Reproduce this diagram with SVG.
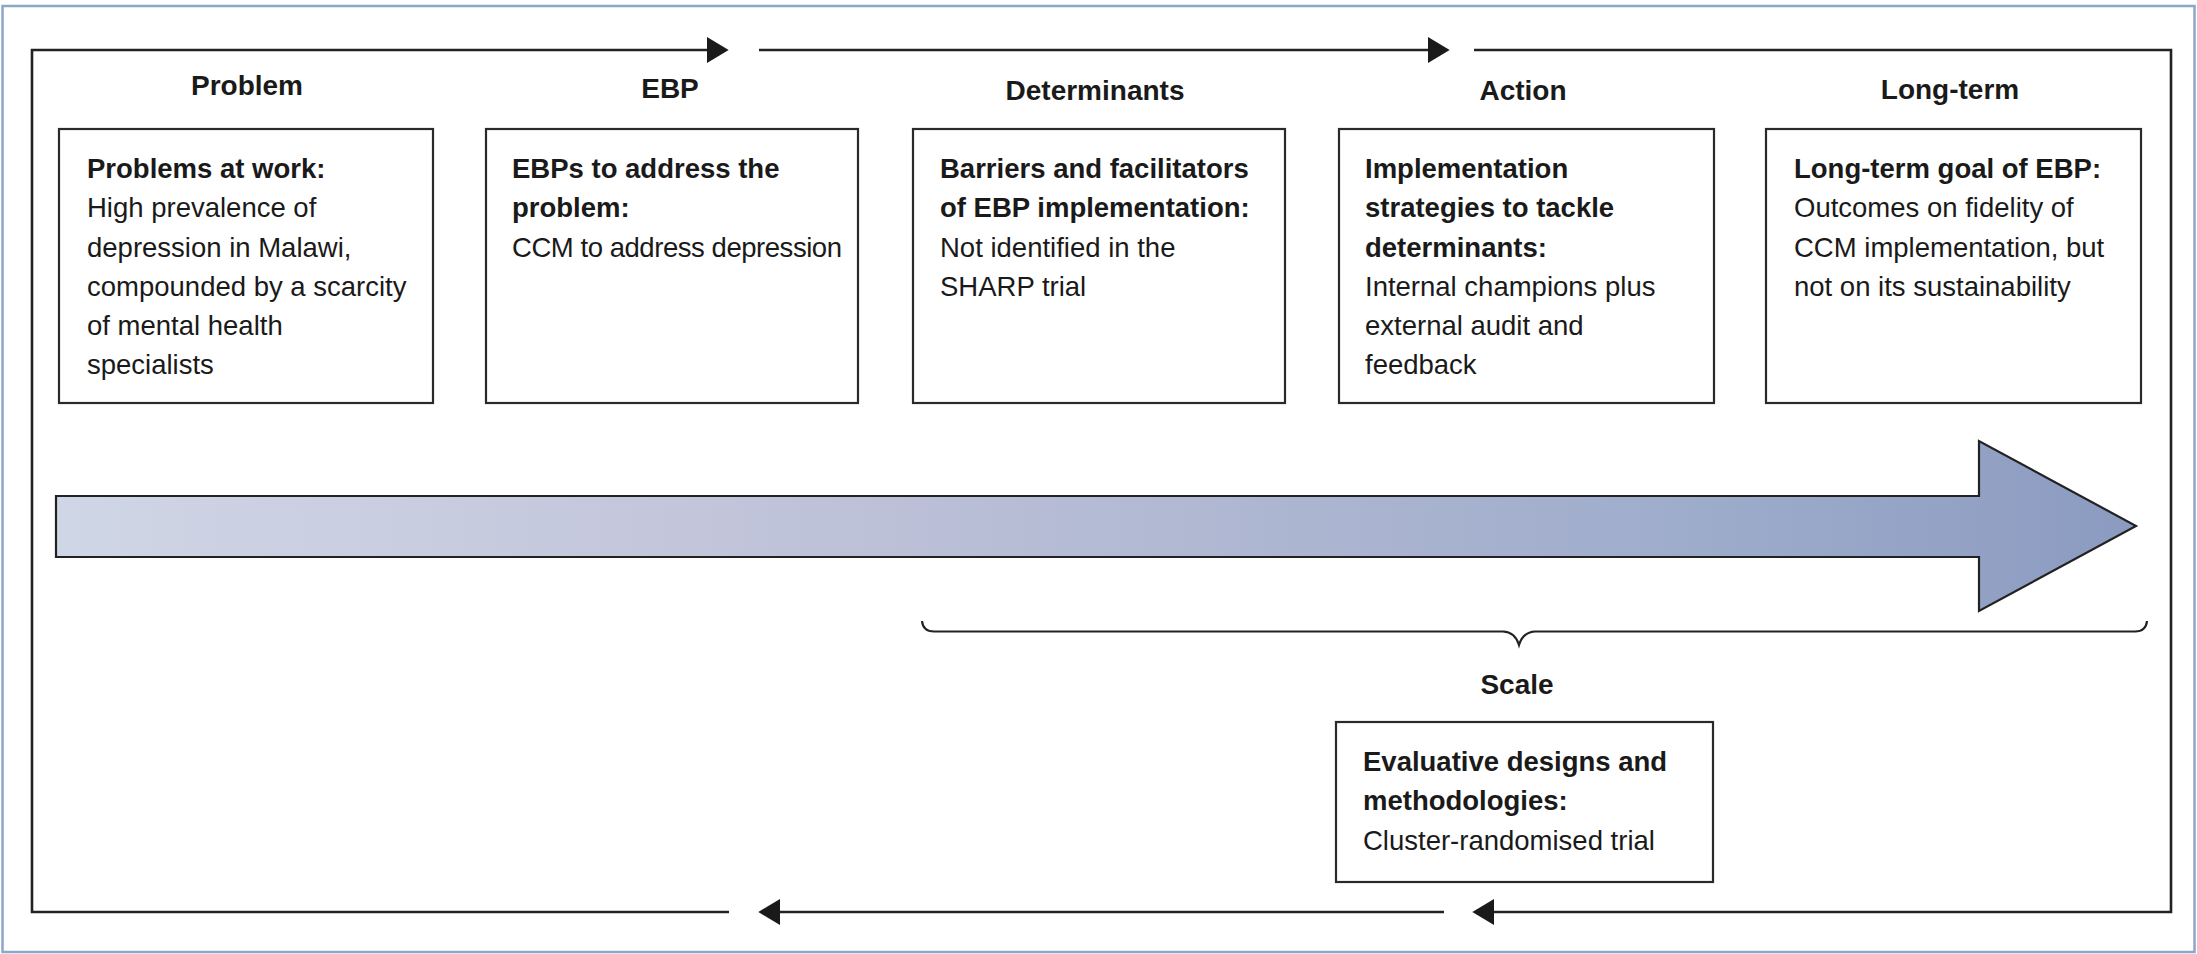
<svg xmlns="http://www.w3.org/2000/svg" width="2197" height="954" viewBox="0 0 2197 954">
  <style>
    .page { fill: #ffffff; }
    .edge { fill: none; stroke: #8fa7c7; stroke-width: 2.5; }
    .box { fill: #ffffff; stroke: #2a2a2a; stroke-width: 2.2; }
    .line { fill: none; stroke: #222222; stroke-width: 2.6; }
    .brace { fill: none; stroke: #222222; stroke-width: 2.2; }
    text { font-family: "Liberation Sans", Arial, sans-serif; fill: #1a1a1a; }
    .head { font-size: 28px; font-weight: bold; text-anchor: middle; }
    .b { font-size: 27.5px; font-weight: bold; }
    .r { font-size: 27.5px; }
  </style>
  <defs>
    <marker id="tri" markerUnits="userSpaceOnUse" markerWidth="22" markerHeight="26" viewBox="0 0 20 24" refX="0" refY="12" orient="auto">
      <path d="M0,0 L20,12 L0,24 Z" fill="#1a1a1a"/>
    </marker>
    <linearGradient id="flow" gradientUnits="userSpaceOnUse" x1="56" y1="0" x2="2136" y2="0">
      <stop offset="0" stop-color="#cfd6e5"/>
      <stop offset="0.3" stop-color="#c3c6db"/>
      <stop offset="0.55" stop-color="#b0b8d2"/>
      <stop offset="0.8" stop-color="#9dabcb"/>
      <stop offset="1" stop-color="#8b9bc0"/>
    </linearGradient>
  </defs>

  <rect class="page" x="0" y="0" width="2197" height="954"/>
  <rect class="edge" x="2.5" y="6" width="2192" height="946"/>

  <!-- cycle frame with direction arrows -->
  <g id="connectors">
    <path class="line" d="M729,912 H32 V50 H707" marker-end="url(#tri)"/>
    <path class="line" d="M759,50 H1428" marker-end="url(#tri)"/>
    <path class="line" d="M1474,50 H2171 V912 H1494" marker-end="url(#tri)"/>
    <path class="line" d="M1444,912 H780" marker-end="url(#tri)"/>
    <path id="scale-brace" class="brace" d="M922,621 Q923,631.5 934,631.5 H1503 Q1515,632 1519,645 Q1523,632 1535,631.5 H2135 Q2146,631.5 2147,621"/>
  </g>

  <!-- progress arrow -->
  <g id="progress-arrow">
    <path d="M56,496 H1979 V441 L2136,526 L1979,611 V557 H56 Z" fill="url(#flow)" stroke="#222222" stroke-width="2.2" stroke-linejoin="miter"/>
  </g>

  <g id="problem">
    <text class="head" x="247" y="95">Problem</text>
    <rect class="box" x="59" y="129" width="374" height="274"/>
    <text class="b" x="87" y="178">Problems at work:</text>
    <text class="r" x="87" y="217">High prevalence of</text>
    <text class="r" x="87" y="256.5">depression in Malawi,</text>
    <text class="r" x="87" y="295.5">compounded by a scarcity</text>
    <text class="r" x="87" y="334.5">of mental health</text>
    <text class="r" x="87" y="374">specialists</text>
  </g>

  <g id="ebp">
    <text class="head" x="670" y="98">EBP</text>
    <rect class="box" x="486" y="129" width="372" height="274"/>
    <text class="b" x="512" y="178">EBPs to address the</text>
    <text class="b" x="512" y="217">problem:</text>
    <text class="r" x="512" y="256.5" textLength="330">CCM to address depression</text>
  </g>

  <g id="determinants">
    <text class="head" x="1095" y="100">Determinants</text>
    <rect class="box" x="913" y="129" width="372" height="274"/>
    <text class="b" x="940" y="178">Barriers and facilitators</text>
    <text class="b" x="940" y="217">of EBP implementation:</text>
    <text class="r" x="940" y="256.5">Not identified in the</text>
    <text class="r" x="940" y="295.5">SHARP trial</text>
  </g>

  <g id="action">
    <text class="head" x="1523" y="100">Action</text>
    <rect class="box" x="1339" y="129" width="375" height="274"/>
    <text class="b" x="1365" y="178">Implementation</text>
    <text class="b" x="1365" y="217">strategies to tackle</text>
    <text class="b" x="1365" y="256.5">determinants:</text>
    <text class="r" x="1365" y="295.5">Internal champions plus</text>
    <text class="r" x="1365" y="334.5">external audit and</text>
    <text class="r" x="1365" y="374">feedback</text>
  </g>

  <g id="long-term">
    <text class="head" x="1950" y="99">Long-term</text>
    <rect class="box" x="1766" y="129" width="375" height="274"/>
    <text class="b" x="1794" y="178">Long-term goal of EBP:</text>
    <text class="r" x="1794" y="217">Outcomes on fidelity of</text>
    <text class="r" x="1794" y="256.5">CCM implementation, but</text>
    <text class="r" x="1794" y="295.5">not on its sustainability</text>
  </g>

  <g id="scale">
    <text class="head" x="1517" y="694">Scale</text>
    <rect class="box" x="1336" y="722" width="377" height="160"/>
    <text class="b" x="1363" y="771">Evaluative designs and</text>
    <text class="b" x="1363" y="810">methodologies:</text>
    <text class="r" x="1363" y="850">Cluster-randomised trial</text>
  </g>
</svg>
